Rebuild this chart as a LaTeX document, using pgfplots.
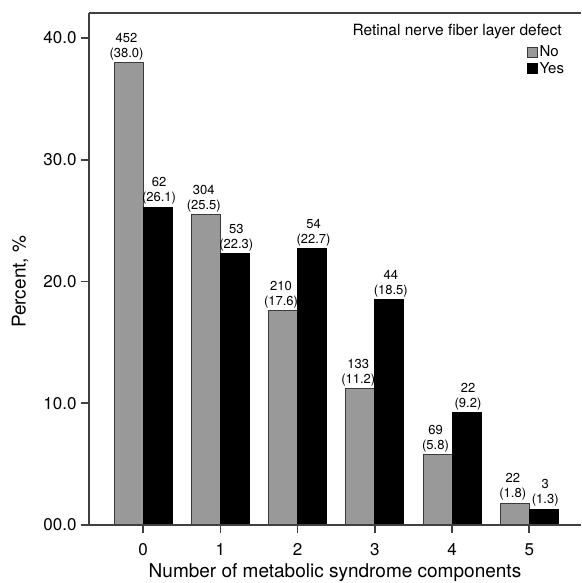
\documentclass[border=0pt]{standalone}
\usepackage{fontspec}
\setmainfont{TeX Gyre Heros}
\usepackage{pgfplots}
\usepackage{pgfplotstable}
\pgfplotsset{compat=1.18}
\definecolor{bargray}{HTML}{999999}
\definecolor{edgegray}{HTML}{3A3A3A}
\definecolor{axgray}{HTML}{404040}

\pgfplotstableread{
x no nn yes ny
0 38.0 452 26.1 62
1 25.5 304 22.3 53
2 17.6 210 22.7 54
3 11.2 133 18.5 44
4 5.8 69 9.2 22
5 1.8 22 1.3 3
}\data

\begin{document}
\begin{tikzpicture}
\begin{axis}[name=ax, scale only axis, width=492pt, height=512pt,
 xmin=-0.70, xmax=5.67, ymin=0, ymax=42.05,
 axis lines=left,
 axis line style={-, draw=axgray, line width=1.4pt},
 xtick={0,1,2,3,4,5}, xticklabels={0,1,2,3,4,5},
 ytick={0,10,20,30,40}, yticklabels={00.0,10.0,20.0,30.0,40.0},
 xmajorticks=true, ymajorticks=true,
 xtick align=outside, ytick align=outside, major tick length=8pt,
 xtick pos=bottom, ytick pos=left,
 axis on top,
 xtick style={draw=axgray, line width=1.6pt},
 ytick style={draw=axgray, line width=1.6pt},
 ticklabel style={font=\fontsize{17}{20}\selectfont},
 yticklabel style={xshift=-1pt},
 xticklabel style={yshift=-7pt},
 xlabel={Number of metabolic syndrome components},
 ylabel={Percent, \%},
 label style={font=\fontsize{19}{20}\selectfont},
 xlabel style={yshift=-1pt},
 ylabel style={at={(ticklabel cs:0.475)}, yshift=8pt},
 ybar=0pt, bar width=29pt,
 point meta=explicit symbolic,
 every node near coord/.append style={align=center, font=\fontsize{13}{15}\selectfont, inner sep=2pt, text=black},
 legend style={draw=none, fill=none, at={(rel axis cs:0.97,0.94)}, anchor=north east,
   font=\fontsize{15}{16}\selectfont, inner sep=0pt, row sep=0pt},
 legend cell align=left,
 legend image code/.code={\draw[#1, line width=0.8pt] (0pt,-5pt) rectangle (10pt,5pt);},
 clip=false,
]
\addplot[fill=bargray, draw=edgegray, line width=1pt,
  every node near coord/.append style={xshift=-2pt},
  visualization depends on={y \as \pct},
  nodes near coords={\pgfplotspointmeta\\(\pgfmathprintnumber[fixed,fixed zerofill,precision=1,assume math mode=true]{\pct})}]
  table[x=x, y=no, meta=nn]{\data};
\addplot[fill=black, draw=black, line width=1pt,
  every node near coord/.append style={xshift=1.5pt},
  visualization depends on={y \as \pct},
  nodes near coords={\pgfplotspointmeta\\(\pgfmathprintnumber[fixed,fixed zerofill,precision=1,assume math mode=true]{\pct})}]
  table[x=x, y=yes, meta=ny]{\data};
\legend{No,Yes}
\draw[draw=axgray, line width=1.4pt] (rel axis cs:0,1) -- (rel axis cs:1,1);
\node[anchor=east, inner sep=0pt, font=\fontsize{15.5}{17}\selectfont] at (rel axis cs:0.961,0.963) {Retinal nerve fiber layer defect};
\end{axis}
\pgfresetboundingbox
\path ([xshift=-89pt,yshift=-58pt]ax.south west) rectangle ([yshift=13pt]ax.north east);
\end{tikzpicture}
\end{document}
